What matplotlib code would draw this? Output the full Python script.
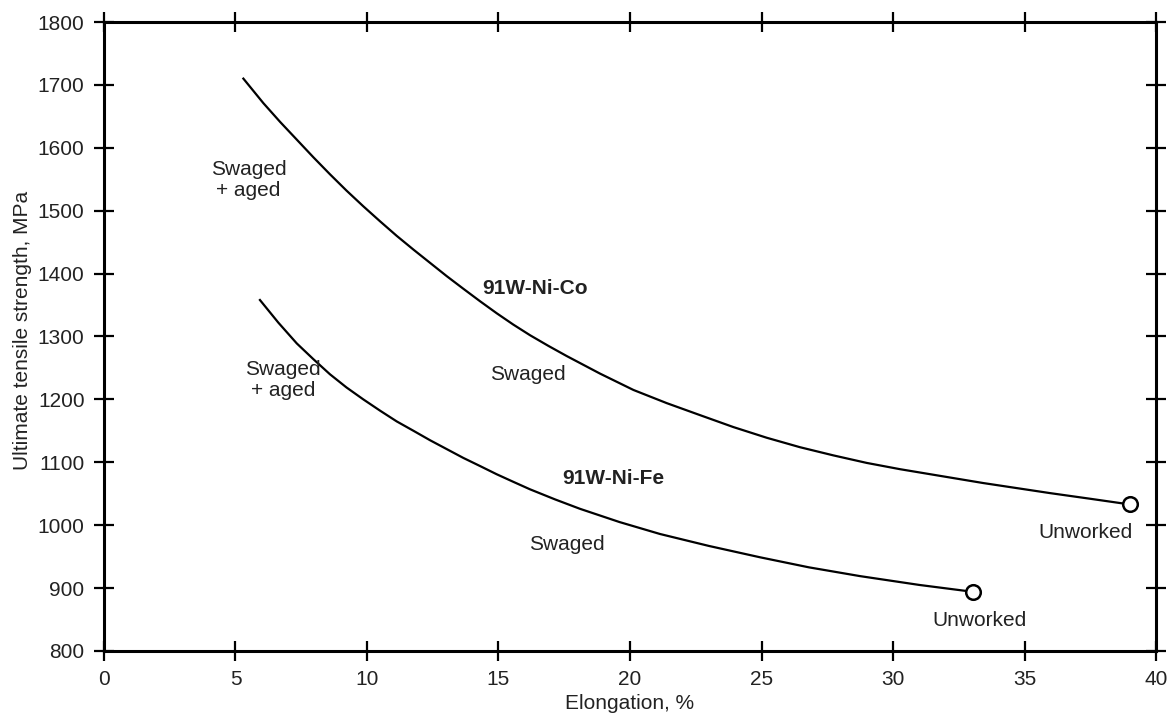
import matplotlib
matplotlib.use("Agg")
import matplotlib.pyplot as plt

plt.rcParams['font.family'] = ['Liberation Sans', 'DejaVu Sans']

# 91W-Ni-Co
co_elong = [5.3, 6.06, 6.7, 7.33, 7.96, 8.59, 9.22, 9.86, 10.5, 11.13, 11.77,
            12.4, 13.03, 13.66, 14.3, 14.93, 15.56, 16.2, 16.9, 17.59, 18.86,
            20.13, 21.4, 22.66, 23.93, 25.2, 26.46, 27.73, 29.0, 30.27, 31.85,
            33.43, 34.7, 35.97, 37.5, 39.0]
co_uts = [1710, 1671, 1641, 1613, 1585, 1558, 1532, 1507, 1483, 1460, 1438,
          1417, 1396, 1376, 1356, 1337, 1319, 1302, 1285, 1269, 1241,
          1215, 1194, 1175, 1156, 1139, 1124, 1111, 1099, 1089, 1078,
          1067, 1059, 1051, 1042, 1033]

# 91W-Ni-Fe
fe_elong = [5.93, 6.63, 7.33, 7.96, 8.59, 9.22, 9.86, 10.5, 11.13, 11.77,
            12.4, 13.03, 13.66, 14.3, 14.93, 15.56, 16.2, 17.15, 18.1, 19.6,
            21.14, 23.0, 24.94, 26.8, 28.75, 31.0, 33.05]
fe_uts = [1358, 1322, 1289, 1264, 1240, 1219, 1200, 1182, 1165, 1150,
          1135, 1121, 1107, 1094, 1081, 1069, 1057, 1041, 1026, 1005,
          986, 967, 949, 933, 919, 905, 894]

# text annotations: (x, y, text, bold)
notes = [
    (5.5, 1549, "Swaged\n+ aged", False),
    (16.4, 1377, "91W-Ni-Co", True),
    (16.1, 1239, "Swaged", False),
    (6.8, 1231, "Swaged\n+ aged", False),
    (19.35, 1075, "91W-Ni-Fe", True),
    (17.6, 970, "Swaged", False),
    (37.3, 989, "Unworked", False),
    (33.3, 849, "Unworked", False),
]

fig = plt.figure(figsize=(11.67, 7.19), dpi=100)
ax = fig.add_axes([0.0891, 0.0946, 0.9015, 0.8748])

fs = 15
ax.plot(co_elong, co_uts, color='black', lw=1.6)
ax.plot(fe_elong, fe_uts, color='black', lw=1.6)
ax.plot([co_elong[-1]], [co_uts[-1]], 'o', mfc='white', mec='black', ms=10.5, mew=1.8)
ax.plot([fe_elong[-1]], [fe_uts[-1]], 'o', mfc='white', mec='black', ms=10.5, mew=1.8)

for x, y, t, b in notes:
    ax.text(x, y, t, ha='center', va='center', fontsize=fs,
            fontweight='bold' if b else 'normal', linespacing=1.15, color='#222222')

ax.set_xlim(0, 40)
ax.set_ylim(800, 1800)
ax.set_xticks(range(0, 41, 5))
ax.set_yticks(range(800, 1801, 100))
ax.tick_params(direction='inout', length=14, width=1.6, labelsize=fs, pad=7,
               top=True, right=True, colors='black', labelcolor='#222222')
for sp in ax.spines.values():
    sp.set_linewidth(2.2)

ax.set_xlabel("Elongation, %", fontsize=fs, color='#222222')
ax.set_ylabel("Ultimate tensile strength, MPa", fontsize=fs, color='#222222')
ax.xaxis.set_label_coords(0.5, -0.068)
ax.yaxis.set_label_coords(-0.068, 0.51)

fig.savefig("out.png", dpi=100)
